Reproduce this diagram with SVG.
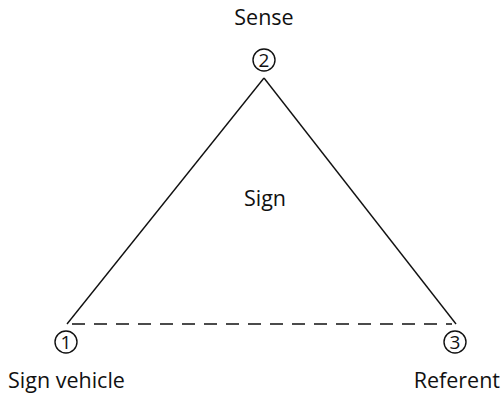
<svg xmlns="http://www.w3.org/2000/svg" width="501" height="395" viewBox="0 0 501 395">
<style>
.t{font-family:"Open Sans","Noto Sans",sans-serif;font-size:21.5px;fill:#111}
.n{font-family:"Open Sans","Noto Sans",sans-serif;font-size:19px;fill:#111;text-anchor:middle}
.c{fill:#fff;stroke:#111;stroke-width:1.4}
.e{stroke:#111;stroke-width:1.4;fill:none}
</style>
<rect width="501" height="395" fill="#fff"/>
<g id="connectors">
<line class="e" x1="67" y1="324" x2="264" y2="78"/>
<line class="e" x1="264" y1="78" x2="456" y2="324"/>
<line class="e" x1="72" y1="324" x2="452" y2="324" stroke-dasharray="13,9"/>
</g>
<g id="sense">
<text class="t" x="264" y="25" text-anchor="middle">Sense</text>
<circle class="c" cx="264" cy="60" r="11"/>
<text class="n" x="264" y="67">2</text>
</g>
<g id="sign">
<text class="t" x="265" y="206" text-anchor="middle">Sign</text>
</g>
<g id="sign-vehicle">
<circle class="c" cx="66" cy="342" r="11"/>
<text class="n" x="66" y="349">1</text>
<text class="t" x="8" y="388">Sign vehicle</text>
</g>
<g id="referent">
<circle class="c" cx="455" cy="342" r="11"/>
<text class="n" x="455" y="349">3</text>
<text class="t" x="500" y="388" text-anchor="end">Referent</text>
</g>
</svg>
